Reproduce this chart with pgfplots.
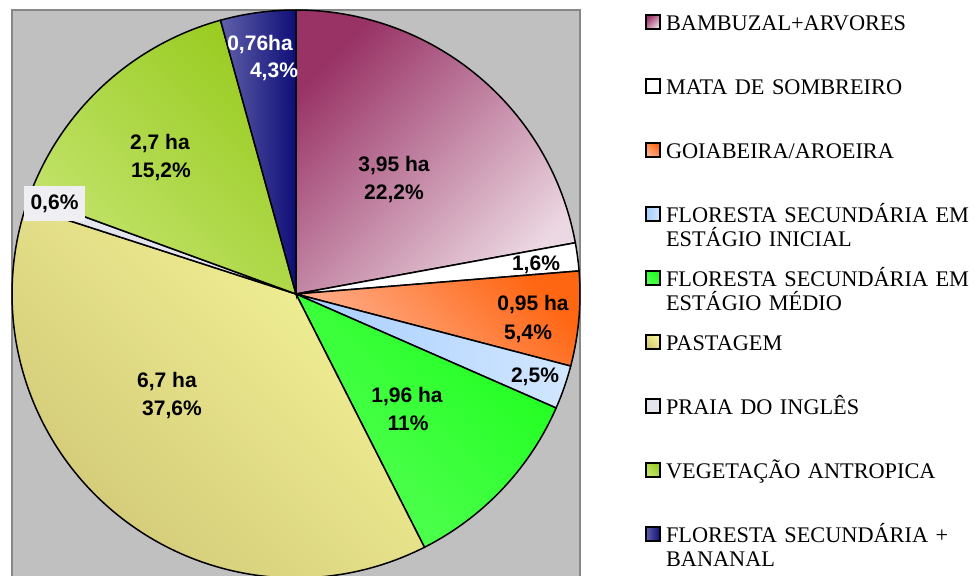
\documentclass[border=0pt]{standalone}
\usepackage{pgfplots}
\pgfplotsset{compat=1.18}
\usepackage{fontspec}
\setmainfont{Liberation Serif}
\newfontfamily\arialfont{Liberation Sans}

\definecolor{bambA}{HTML}{993366}
\definecolor{bambB}{HTML}{ECD8E2}
\definecolor{goiaA}{HTML}{FF6612}
\definecolor{goiaB}{HTML}{FFB394}
\definecolor{finA}{HTML}{A6CDFF}
\definecolor{finB}{HTML}{D2E7FF}
\definecolor{fmedA}{HTML}{1EFF1E}
\definecolor{fmedB}{HTML}{55FF55}
\definecolor{pastA}{HTML}{F4F498}
\definecolor{pastB}{HTML}{D2C977}
\definecolor{praiaC}{HTML}{E4E4EC}
\definecolor{vegA}{HTML}{99CC22}
\definecolor{vegB}{HTML}{C4E46E}
\definecolor{banA}{HTML}{0E0E78}
\definecolor{banB}{HTML}{6060AA}
\definecolor{bg}{HTML}{C0C0C0}
\definecolor{framec}{HTML}{878787}
\definecolor{boxc}{HTML}{EEEEF3}

\newcommand\lblfont{\arialfont\bfseries\fontsize{21}{25}\selectfont}
\newcommand\legfont{\fontsize{22.3}{24.5}\selectfont}

% cumulative angle, pie starts at 12 o'clock and runs clockwise
\def\cum{90}
\newcommand\slice[2]{%
  \pgfmathsetmacro\sa{\cum}%
  \pgfmathsetmacro\sb{\cum-#1*360/100.4}%
  \edef\temp{\noexpand\addplot[\unexpanded{#2}, draw=black, line width=1.5pt,
      domain=\sb:\sa, samples=120, variable=\noexpand\ang]
      ({cos(\noexpand\ang)},{sin(\noexpand\ang)}) -- (axis cs:0,0) -- cycle;}%
  \temp
  \xdef\cum{\sb}%
}
\newcommand\lbl[4][black]{%
  \node[anchor=base, inner sep=0pt, font=\lblfont, text=#1,
        xshift=#2pt, yshift=#3pt] at (axis cs:0,0) {#4};}

\begin{document}
\begin{tikzpicture}
\begin{axis}[
  at={(12pt,-10pt)}, anchor=north west,
  scale only axis, width=568pt, height=568pt,
  xmin=-1, xmax=1, ymin=-1, ymax=1,
  xtick=\empty, ytick=\empty,
  axis background/.style={fill=bg},
  axis line style={draw=framec, line width=1.5pt},
  clip=false,
  legend image code/.code={%
    \draw[#1, draw=black, line width=2pt] (1pt,1pt) rectangle (15pt,15pt);},
  legend style={
    at={(1.1145,0.99296)}, anchor=north west,
    draw=none, fill=none, inner sep=0pt, outer sep=0pt,
    row sep=0pt, column sep=5pt,
    font=\legfont,
    cells={anchor=base west},
    nodes={inner sep=0pt, text width=311pt, align=left,
           text height=16pt, text depth=48pt},
  },
]
\slice{22.2}{top color=bambA, bottom color=bambB, shading angle=45}
\addlegendentry{BAMBUZAL+ARVORES}
\slice{1.6}{fill=white}
\addlegendentry{MATA DE SOMBREIRO}
\slice{5.4}{top color=goiaA, bottom color=goiaB, shading angle=-45}
\addlegendentry{GOIABEIRA/AROEIRA}
\slice{2.5}{left color=finA, right color=finB}
\addlegendentry{FLORESTA SECUNDÁRIA EM\\ESTÁGIO INICIAL}
\slice{11}{top color=fmedA, bottom color=fmedB, shading angle=-45}
\addlegendentry{FLORESTA SECUNDÁRIA EM\\ESTÁGIO MÉDIO}
\slice{37.6}{top color=pastA, bottom color=pastB, shading angle=-45}
\addlegendentry{PASTAGEM}
\slice{0.6}{fill=praiaC}
\addlegendentry{PRAIA DO INGLÊS}
\slice{15.2}{top color=vegA, bottom color=vegB, shading angle=-45}
\addlegendentry{VEGETAÇÃO ANTROPICA}
\slice{4.3}{left color=banB, right color=banA}
\addlegendentry{FLORESTA SECUNDÁRIA +\\BANANAL}

\lbl{98}{122.5}{3,95 ha}
\lbl{98}{94.5}{22,2\%}
\lbl{240}{23.5}{1,6\%}
\lbl{237}{-16.5}{0,95 ha}
\lbl{232}{-45.5}{5,4\%}
\lbl{239}{-88.5}{2,5\%}
\lbl{111}{-108.5}{1,96 ha}
\lbl{112}{-136.5}{11\%}
\lbl{-129}{-93.5}{6,7 ha}
\lbl{-124}{-121.5}{37,6\%}
\node[fill=boxc, minimum width=61pt, minimum height=35pt, inner sep=0pt,
      font=\lblfont, xshift=-241.5pt, yshift=90.5pt] at (axis cs:0,0) {0,6\%};
\lbl{-136}{144.5}{2,7 ha}
\lbl{-135}{116.5}{15,2\%}
\lbl[white]{-36}{243.5}{0,76ha}
\lbl[white]{-22}{216.5}{4,3\%}
\end{axis}
\pgfresetboundingbox
\path[use as bounding box] (0pt,0pt) rectangle (978pt,-576pt);
\end{tikzpicture}
\end{document}
